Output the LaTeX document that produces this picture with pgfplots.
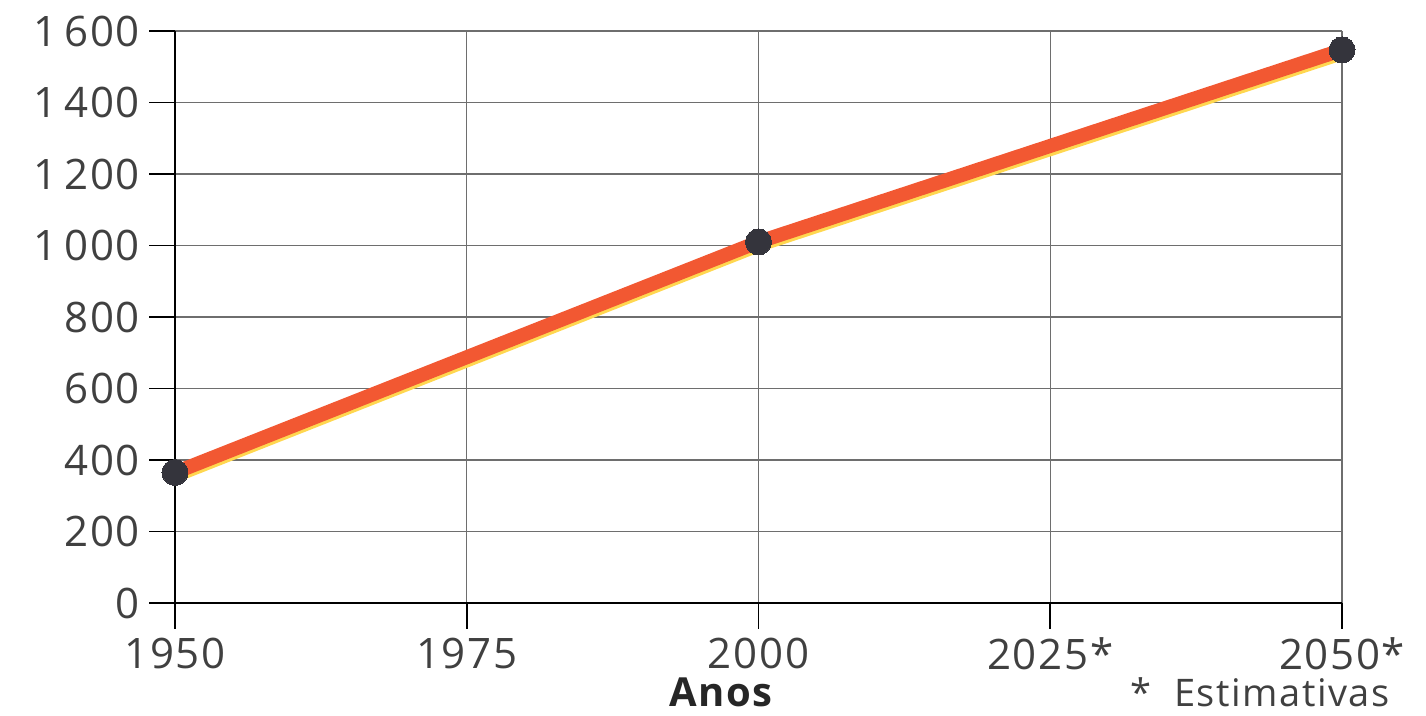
\documentclass[border=0pt]{standalone}
\usepackage{pgfplots}
\pgfplotsset{compat=1.18}
\usepackage{fontspec}
\setmainfont{Open Sans}[LetterSpace=4]
\definecolor{linered}{RGB}{242,88,50}
\definecolor{lineyellow}{RGB}{255,215,80}
\definecolor{markgray}{RGB}{52,52,60}
\definecolor{gridgray}{RGB}{110,110,110}

\begin{document}
\begin{tikzpicture}
\begin{axis}[
    scale only axis,
    width=583.5pt,
    height=286pt,
    xmin=1950, xmax=2050,
    ymin=0, ymax=1600,
    xtick={1950,1975,2000,2025,2050},
    xticklabels={1950,1975,2000,2025*,2050*},
    ytick={0,200,...,1600},
    /pgf/number format/assume math mode=true,
    /pgf/number format/1000 sep={\,},
    axis lines=left,
    axis line style={-, black, line width=1.3pt},
    tick align=outside,
    major tick length=13pt,
    tick style={black, line width=0.9pt},
    grid=major,
    grid style={gridgray, line width=0.7pt},
    ticklabel style={font=\fontsize{21}{24}\selectfont, text=black!75},
    yticklabel shift=1pt,
    xticklabel shift=1pt,
    clip=false,
]
\addplot[lineyellow, line width=7pt, yshift=-1.6pt] coordinates {(1950,365) (2000,1010) (2050,1547)};
\addplot[linered, line width=7pt, mark=*, mark size=6.5pt,
    mark options={fill=markgray, draw=markgray, line width=0pt}]
    coordinates {(1950,365) (2000,1010) (2050,1547)};
\path (rel axis cs:0,0) ++(-87.5pt,-56.5pt) coordinate (bbsw);
\path (rel axis cs:0,0) ++(625.5pt,301.5pt) coordinate (bbne);
\path (bbsw) rectangle (bbne);
\node[anchor=base, font=\fontsize{20}{24}\selectfont\bfseries, text=black!85, inner sep=0pt]
    at ([shift={(273pt,-52pt)}]rel axis cs:0,0) {Anos};
\node[anchor=base east, font=\fontsize{19}{22}\selectfont, text=black!75, inner sep=0pt]
    at ([shift={(607.5pt,-52pt)}]rel axis cs:0,0) {*\ \ Estimativas};
\end{axis}
\end{tikzpicture}
\end{document}
